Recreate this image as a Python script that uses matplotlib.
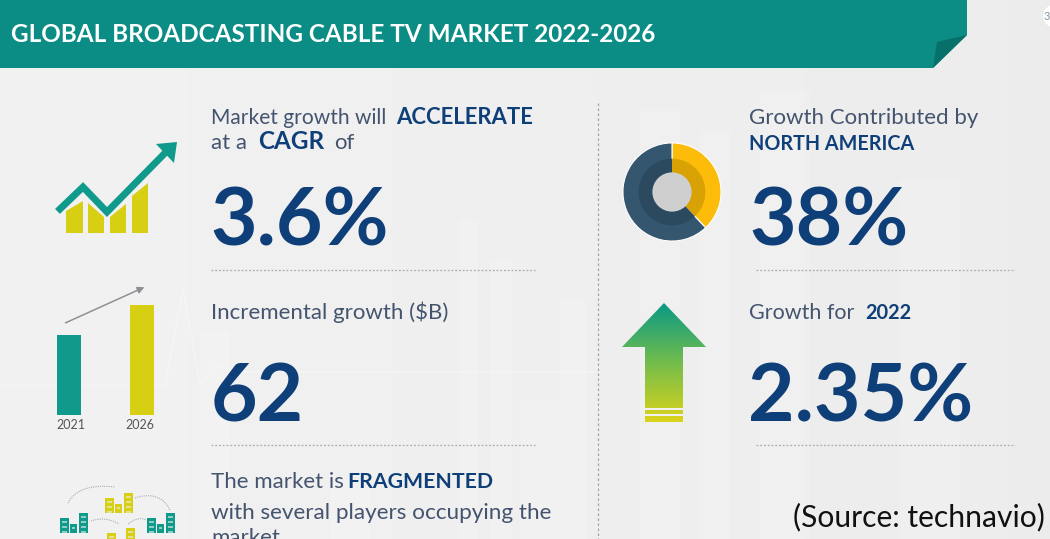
import numpy as np
import matplotlib
matplotlib.use("Agg")
import matplotlib.pyplot as plt
from matplotlib.patches import Polygon, Rectangle, Circle, FancyArrowPatch

W, H = 1050, 539

title = "GLOBAL BROADCASTING CABLE TV MARKET 2022-2026"
cagr = "3.6%"
incremental = "62"
na_share = "38%"
growth_2022 = "2.35%"
source = "(Source: technavio)"

# donut: North America vs the rest, clockwise from the top
donut_labels = ["North America", "Rest"]
donut_values = [38, 62]
# small bar icon, relative market size
bar_years = ["2021", "2026"]
bar_values = [80, 110]

TEAL = "#0b8c84"
TEAL_BAR = "#109a8c"
TEAL_DARK = "#07706a"
YELLOW = "#d6cf14"
NAVY = "#0f3f78"
SLATE = "#44546f"
GOLD = "#fdbb0a"
GOLD_DARK = "#d9a204"
DONUT_BLUE = "#35566f"
DONUT_BLUE_DARK = "#2b4a60"

plt.rcParams["font.family"] = ["Lato", "DejaVu Sans"]

fig = plt.figure(figsize=(W / 100, H / 100), dpi=100)
ax = fig.add_axes([0, 0, 1, 1])
ax.set_xlim(0, W)
ax.set_ylim(H, 0)
ax.axis("off")


def px_axes(x0, y0, x1, y1):
    # axes placed with top-left pixel coordinates
    a = fig.add_axes([x0 / W, 1 - y1 / H, (x1 - x0) / W, (y1 - y0) / H])
    a.axis("off")
    return a


# background and faint skyline behind the content
grad = np.linspace(0.945, 0.925, 200).reshape(1, -1)
ax.imshow(grad, extent=[0, W, H, 0], cmap="gray", vmin=0, vmax=1, aspect="auto", zorder=0)
for bx, bw, top in [(200, 30, 330), (460, 18, 220), (490, 22, 260), (560, 26, 300), (640, 40, 110),
                    (700, 30, 130), (330, 40, 480), (520, 40, 400), (900, 60, 180), (760, 50, 90)]:
    ax.add_patch(Rectangle((bx, top), bw, H - top, color="white", alpha=0.14, lw=0, zorder=1))
ax.plot([0, 150, 165, 183, 200, 215, 240, 600], [385, 385, 385, 290, 385, 365, 372, 372],
        color="white", lw=1, alpha=0.3, zorder=1)

# title ribbon with folded corner
ax.add_patch(Polygon([(0, 0), (967, 0), (967, 35), (933, 68), (0, 68)], color=TEAL, lw=0, zorder=2))
ax.add_patch(Polygon([(937, 42), (967, 35), (933, 68)], color=TEAL_DARK, lw=0, zorder=3))
ax.text(11, 35, title, color="white", fontsize=17.5, fontweight="bold", va="center", zorder=4)

# dotted separators
for x0, x1, y in [(211, 535, 270), (211, 535, 445), (756, 1015, 270), (756, 1015, 445)]:
    ax.plot([x0, x1], [y, y], color="#a9adb2", lw=0.9, ls=(0, (1.5, 1.5)), zorder=2)
ax.plot([598, 598], [103, H], color="#a0a4a9", lw=0.9, ls=(0, (2, 2)), zorder=2)

# regular and bold runs of the captions: x, baseline, text, bold, size
runs = [
    (211, 124, "Market growth will", False, 15.1),
    (396, 124, "ACCELERATE", True, 15.9),
    (211, 149, "at a", False, 16),
    (258, 149, "CAGR", True, 17.5),
    (334, 149, "of", False, 16),
    (211, 319, "Incremental growth ($B)", False, 16),
    (211, 488, "The market is", False, 16),
    (347, 488, "FRAGMENTED", True, 15.3),
    (211, 519, "with several players occupying the", False, 16.2),
    (211, 544, "market", False, 16),
    (749, 124, "Growth Contributed by", False, 16),
    (749, 150, "NORTH AMERICA", True, 14.2),
    (749, 319, "Growth for", False, 15.5),
    (865, 319, "2022", True, 14.4),
]
for x, y, s, bold, size in runs:
    ax.text(x, y, s, fontsize=size, color=NAVY if bold else SLATE,
            fontweight="bold" if bold else "normal", va="baseline", zorder=4)

for x, y, s in [(210, 245, cagr), (211, 421, incremental), (749, 245, na_share), (748, 421, growth_2022)]:
    ax.text(x, y, s, fontsize=58, fontweight="bold", color=NAVY, va="baseline", zorder=4)

ax.text(1045, 517, source, fontsize=21.6, color="#111111", ha="right", va="center", zorder=5)

# corner badge at the right edge
ax.add_patch(Circle((1054, 16), 11, color="white", lw=0, zorder=3))
ax.text(1047, 16, "3", fontsize=8, color="#8a93a0", ha="center", va="center", zorder=4)

# growth chart icon, bar tops slanted along the line
for x0, x1, y0, y1 in [(66, 83, 211, 201), (88, 104, 203, 217), (110, 126, 217, 204), (132, 148, 196, 183)]:
    ax.add_patch(Polygon([(x0, 233), (x0, y0), (x1, y1), (x1, 233)], color=YELLOW, lw=0, zorder=3))
ax.plot([60, 83, 107, 166], [209, 187, 212, 152], color=TEAL_BAR, lw=5, solid_joinstyle="miter", zorder=4)
ax.add_patch(Polygon([(156, 144), (177, 142), (174, 163)], color=TEAL_BAR, lw=0, zorder=4))

# market size bars
bar_ax = px_axes(50, 305, 162, 415)
bar_ax.bar(range(len(bar_values)), bar_values, width=24 / 73, color=[TEAL_BAR, YELLOW])
bar_ax.set_xlim(-19 / 73, 1 + 20 / 73)
bar_ax.set_ylim(0, max(bar_values))
for x, lab in zip([71, 140], bar_years):
    ax.text(x, 425, lab, fontsize=9, color="#555555", ha="center", va="center", zorder=4)
ax.add_patch(FancyArrowPatch((63, 324), (147, 286), arrowstyle="-|>", mutation_scale=10,
                             color="#8d9094", lw=1.1, zorder=4))

# donut
pie_ax = px_axes(620, 140, 724, 244)
pie_ax.set_zorder(3)
pie_ax.pie(donut_values, colors=[GOLD, DONUT_BLUE], startangle=90, counterclock=False, radius=1.0,
           wedgeprops=dict(width=0.42, edgecolor="white", linewidth=0.8))
pie_ax.pie(donut_values, colors=[GOLD_DARK, DONUT_BLUE_DARK], startangle=90, counterclock=False, radius=0.68,
           wedgeprops=dict(width=0.3, edgecolor="none"))
pie_ax.add_patch(Circle((0, 0), 0.4, color="#cfcfcf", lw=0))
pie_ax.set_xlim(-1.06, 1.06)
pie_ax.set_ylim(-1.06, 1.06)

# gradient up arrow
arrow_ax = px_axes(622, 303, 706, 422)
arrow_ax.set_xlim(0, 84)
arrow_ax.set_ylim(119, 0)
stops = np.array([[0.04, 0.6, 0.52], [0.45, 0.74, 0.3], [0.86, 0.83, 0.1]])
t = np.linspace(0, 1, 120)
rgb = np.stack([np.interp(t, [0, 0.5, 1], stops[:, i]) for i in range(3)], axis=1)[:, None, :]
im = arrow_ax.imshow(rgb, extent=[0, 84, 119, 0], aspect="auto")
clip = Polygon([(42, 0), (84, 44), (61, 44), (61, 119), (23, 119), (23, 44), (0, 44)],
               transform=arrow_ax.transData, fc="none", ec="none")
arrow_ax.add_patch(clip)
im.set_clip_path(clip)
for y in (105, 111):
    arrow_ax.add_patch(Rectangle((23, y), 38, 2, color="#f0f0f0", lw=0))


def buildings(x, y, color):
    # three small towers with window gaps, base line at y
    for dx, w, h in [(0, 9, 15), (10, 7, 9), (19, 9, 20)]:
        ax.add_patch(Rectangle((x + dx, y - h), w, h, color=color, lw=0, zorder=3))
        for wy in range(int(y - h + 3), int(y - 1), 5):
            ax.add_patch(Rectangle((x + dx + 2, wy), w - 4, 1.5, color="#eef0ee", alpha=0.6, lw=0, zorder=4))


def arc(p0, p1, p2):
    # quadratic curve for the dotted links between the building groups
    s = np.linspace(0, 1, 30)
    xs = (1 - s) ** 2 * p0[0] + 2 * s * (1 - s) * p1[0] + s ** 2 * p2[0]
    ys = (1 - s) ** 2 * p0[1] + 2 * s * (1 - s) * p1[1] + s ** 2 * p2[1]
    ax.plot(xs, ys, color="#a8acaf", lw=0.8, ls=(0, (1, 1)), zorder=3)


buildings(60, 533, TEAL_BAR)
buildings(147, 533, TEAL_BAR)
buildings(105, 513, YELLOW)
buildings(107, 548, YELLOW)
arc((68, 503), (78, 483), (115, 487))
arc((135, 498), (160, 490), (170, 510))
arc((91, 521), (105, 516), (119, 524))
arc((128, 524), (138, 516), (146, 520))

fig.savefig("out.png", dpi=100)
